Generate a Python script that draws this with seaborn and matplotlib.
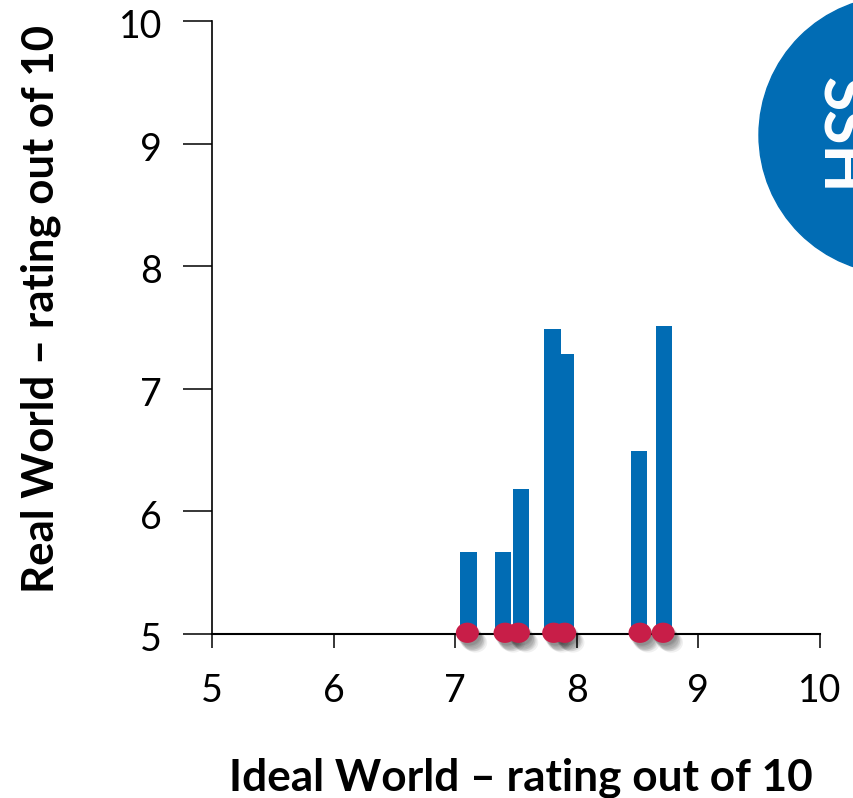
import matplotlib
matplotlib.use("Agg")
import matplotlib.pyplot as plt
import matplotlib.patheffects as pe
import pandas as pd
import seaborn as sns
from matplotlib.patches import Circle
from matplotlib.path import Path
from matplotlib.transforms import Affine2D, ScaledTranslation

# values
bar_x = [7.11, 7.39, 7.54, 7.80, 7.91, 8.51, 8.72]
bar_y = [5.67, 5.67, 6.18, 7.49, 7.28, 6.49, 7.51]
dot_x = [7.10, 7.41, 7.52, 7.81, 7.90, 8.52, 8.71]
dot_y = [5.01, 5.01, 5.01, 5.01, 5.01, 5.01, 5.01]
ticks = [5, 6, 7, 8, 9, 10]

BLUE = "#016CB4"
RED = "#C81E48"
W, H = 854, 798

sns.set_theme(style="white")
plt.rcParams["font.family"] = ["Lato", "DejaVu Sans"]

fig = plt.figure(figsize=(W / 100, H / 100), dpi=100)
ax = fig.add_axes([212 / W, 1 - 634 / H, 608 / W, 613 / H])

bars = pd.DataFrame({"x": bar_x, "y": bar_y})
dots = pd.DataFrame({"x": dot_x, "y": dot_y})

# width is relative to the smallest gap between bars when native_scale is on
sns.barplot(data=bars, x="x", y="y", native_scale=True, width=1.21, color=BLUE,
            saturation=1, linewidth=0, ax=ax, zorder=2)

# flat ellipse marker
ellipse = Path.unit_circle().transformed(Affine2D().scale(1.0, 0.88))
sc = sns.scatterplot(data=dots, x="x", y="y", marker=ellipse, s=275, color=RED,
                     edgecolor="none", clip_on=False, zorder=4, ax=ax)

# soft shadow, a few faint copies stacked
shadow = []
for dx, dy in [(1, -2), (2, -2), (2, -3), (3, -4), (3, -5), (4, -5), (4, -6), (5, -6), (6, -7)]:
    shadow.append(pe.SimplePatchShadow(offset=(dx, dy), alpha=0.06, shadow_rgbFace="black"))
for coll in sc.collections:
    coll.set_path_effects(shadow + [pe.Normal()])

ax.set_xlim(5, 10)
ax.set_ylim(5, 10)
ax.set_xticks(ticks)
ax.set_yticks(ticks)
ax.set_xticklabels(ticks)
ax.set_yticklabels(ticks)
ax.tick_params(axis="x", direction="out", length=10, width=1.1, color="black",
               pad=18, labelsize=27, labelcolor="black", bottom=True)
ax.tick_params(axis="y", direction="out", length=21, width=1.1, color="black",
               pad=15, labelsize=27, labelcolor="black", left=True)

# y labels sit a little below their ticks
nudge = ScaledTranslation(0, -2 / 72, fig.dpi_scale_trans)
for lab in ax.get_yticklabels():
    lab.set_transform(lab.get_transform() + nudge)

sns.despine(ax=ax)
ax.spines["left"].set_color("black")
ax.spines["left"].set_linewidth(1.2)
ax.spines["bottom"].set_color("black")
ax.spines["bottom"].set_linewidth(1.5)

ax.set_xlabel("")
ax.set_ylabel("")
fig.text(521 / W, 1 - 778 / H, "Ideal World \u2013 rating out of 10", ha="center", va="center",
         fontsize=31.8, fontweight="bold", color="black")
fig.text(41 / W, 1 - 309 / H, "Real World \u2013 rating out of 10", ha="center", va="center",
         rotation=90, fontsize=31.5, fontweight="bold", color="black")

# round badge cut off by the right edge
badge = Circle((898, H - 135), 139, color=BLUE, transform=None, zorder=5)
fig.add_artist(badge)
fig.text(811 / W, 1 - 135 / H, "SSH", rotation=-90, ha="left", va="center",
         fontsize=45, fontweight="bold", color="white", zorder=6)

fig.savefig("out.png", dpi=100)
